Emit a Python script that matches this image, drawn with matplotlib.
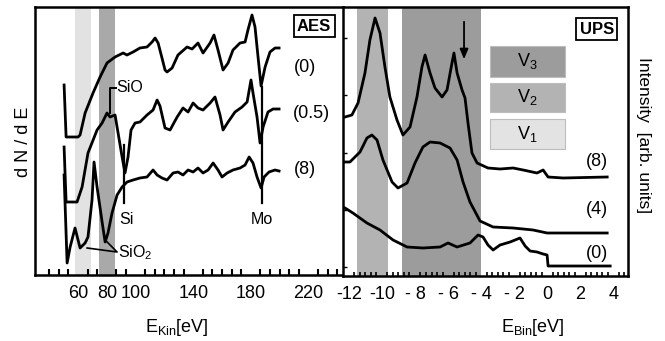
import numpy as np
import matplotlib
matplotlib.use("Agg")
import matplotlib.pyplot as plt
from matplotlib.patches import Rectangle
from matplotlib.ticker import FixedLocator

plt.rcParams["font.family"] = ["Liberation Sans", "DejaVu Sans"]
plt.rcParams["mathtext.fontset"] = "custom"
plt.rcParams["mathtext.rm"] = "Liberation Sans"
plt.rcParams["mathtext.it"] = "Liberation Sans:italic"

# ── AES data (E_kin in eV, dN/dE in arb. units) ──────────────────────────────
aes_e0 = [50.3, 51.7, 60.0, 61.4, 64.9, 70.4, 75.3, 80.1, 85.7, 91.3, 94.0, 98.2,
          103.0, 107.9, 111.4, 113.5, 115.6, 118.3, 120.4, 121.8, 125.3, 129.4,
          135.7, 139.2, 143.3, 146.8, 151.7, 154.4, 157.2, 160.7, 164.2, 167.6,
          172.5, 176.0, 178.0, 180.8, 182.9, 185.0, 187.1, 189.9, 193.3, 196.8, 199.6]
aes_i0 = [190, 138, 138, 140, 162, 182, 198, 212, 218, 222, 220, 223,
          227, 228, 233, 237, 232, 217, 205, 203, 207, 220,
          228, 226, 232, 222, 232, 240, 225, 205, 212, 225,
          232, 233, 245, 260, 248, 218, 189, 208, 223, 227, 227]

aes_e05 = [50.3, 51.7, 59.3, 62.8, 66.9, 73.2, 76.7, 80.1, 82.2, 85.7, 87.8, 90.6,
           92.6, 94.7, 96.8, 99.6, 103.0, 107.9, 112.1, 114.9, 116.9, 120.4, 123.9,
           128.8, 132.9, 136.4, 139.9, 143.3, 146.8, 151.7, 155.1, 158.6, 160.7,
           164.2, 169.0, 173.9, 177.4, 180.1, 181.5, 184.3, 186.4, 188.5, 191.9,
           195.4, 199.6]
aes_i05 = [128, 73, 73, 88, 122, 145, 152, 162, 158, 160, 142, 118,
           102, 118, 145, 152, 153, 160, 165, 175, 169, 147, 145,
           158, 167, 163, 172, 167, 165, 172, 178, 160, 145,
           153, 163, 168, 173, 195, 182, 158, 132, 148, 163,
           166, 166]

aes_e8 = [50.3, 52.4, 54.5, 57.9, 61.4, 64.9, 66.9, 69.7, 71.1, 73.2, 76.7, 78.8,
          80.8, 83.6, 87.1, 90.6, 94.0, 98.2, 103.0, 107.9, 112.1, 114.9, 118.3,
          121.8, 126.0, 129.4, 132.9, 136.4, 139.9, 143.3, 146.8, 150.3, 153.8,
          157.2, 160.0, 163.5, 167.6, 172.5, 176.0, 178.8, 181.5, 184.3, 187.1,
          189.2, 192.6, 196.8, 199.6]
aes_i8 = [100, 12, 28, 47, 27, 32, 38, 75, 113, 88, 53, 33,
          42, 62, 80, 88, 93, 95, 97, 98, 105, 100, 97,
          95, 102, 103, 100, 105, 103, 107, 102, 105, 112,
          105, 98, 102, 105, 107, 110, 118, 112, 98, 87,
          98, 103, 105, 104]

# ── UPS data (E_bin in eV, intensity in arb. units) ──────────────────────────
ups_e8 = [-12.24, -11.82, -11.45, -11.03, -10.73, -10.42, -10.12, -9.82, -9.52,
          -9.09, -8.73, -8.30, -7.88, -7.58, -7.39, -7.09, -6.79, -6.36, -6.06,
          -5.76, -5.64, -5.45, -5.15, -4.97, -4.79, -4.55, -4.24, -3.58, -2.85,
          -2.06, -1.45, -0.61, -0.24, 0.06, 0.97, 3.64]
ups_i8 = [159, 161, 173, 203, 236, 258, 243, 209, 179,
          156, 141, 149, 179, 209, 221, 203, 188, 179, 186,
          213, 223, 203, 186, 178, 153, 123, 113, 108, 107,
          108, 106, 103, 106, 99, 98, 99]

ups_e4 = [-12.24, -11.94, -11.33, -10.91, -10.61, -10.30, -9.94, -9.39, -9.03,
          -8.48, -8.00, -7.52, -7.09, -6.48, -5.88, -5.45, -5.09, -4.67, -4.06,
          -3.27, -2.06, -0.85, 0.0, 3.64]
ups_i4 = [114, 114, 124, 138, 141, 136, 116, 94, 88,
          93, 113, 129, 134, 133, 128, 116, 94, 74, 55,
          49, 48, 46, 43, 43]

ups_e0 = [-12.24, -11.76, -10.91, -10.12, -9.33, -8.48, -7.52, -6.48, -6.00,
          -5.45, -4.67, -4.18, -3.88, -3.58, -3.27, -2.85, -2.24, -1.64, -1.33,
          -1.03, -0.61, -0.24, 0.0, 0.06, 3.82]
ups_i0 = [68, 63, 53, 46, 36, 29, 28, 29, 33,
          29, 33, 41, 39, 31, 26, 31, 34, 38, 30,
          25, 24, 22, 21, 10, 10]

aes_ticks = [60, 80, 100, 140, 180, 220]
ups_ticks = [-12, -10, -8, -6, -4, -2, 0, 2, 4]
ups_ticklabels = ["-12", "-10", "- 8", "- 6", "- 4", "- 2", "0", "2", "4"]

# ── Figure ───────────────────────────────────────────────────────────────────
W, H = 665, 341
fig = plt.figure(figsize=(W / 100, H / 100), dpi=100)

def px_axes(x0, y0, x1, y1):
    return fig.add_axes([x0 / W, 1 - y1 / H, (x1 - x0) / W, (y1 - y0) / H])

ax1 = px_axes(35, 7, 343, 275)
ax2 = px_axes(343, 7, 628, 276)

LW = 2.0
FS = 13        # tick labels, curve labels, axis labels
FS_ANN = 11.5  # Si / Mo / SiO annotations

# ── AES panel ────────────────────────────────────────────────────────────────
ax1.axvspan(57.9, 68.8, color="#e2e2e2", lw=0, zorder=0)
ax1.axvspan(74.6, 85.7, color="#a9a9a9", lw=0, zorder=0)
for e, i in [(aes_e0, aes_i0), (aes_e05, aes_i05), (aes_e8, aes_i8)]:
    ax1.plot(e, i, color="black", lw=LW, solid_joinstyle="round")

# markers for Si and Mo
ax1.plot([92.0, 92.0], [72, 130], color="black", lw=1.6)
ax1.plot([187.8, 187.8], [72, 188], color="black", lw=1.6)
ax1.text(93.3, 55, "Si", ha="center", va="center", fontsize=FS_ANN)
ax1.text(187.8, 55, "Mo", ha="center", va="center", fontsize=FS_ANN)
ax1.plot([82.2, 82.2, 86.2], [162, 187, 187], color="black", lw=1.4)
ax1.text(86.6, 187, "SiO", ha="left", va="center", fontsize=FS_ANN)
ax1.plot([66.3, 87.1, 78.8], [27, 23, 35], color="black", lw=1.2)
ax1.text(87.8, 22, "SiO$_2$", ha="left", va="center", fontsize=FS_ANN)

ax1.text(217.6, 207, "(0)", ha="center", va="center", fontsize=FS)
ax1.text(222.0, 162, "(0.5)", ha="center", va="center", fontsize=FS)
ax1.text(217.6, 105, "(8)", ha="center", va="center", fontsize=FS)
ax1.text(0.906, 0.929, "AES", transform=ax1.transAxes, ha="center", va="center",
         fontsize=12, fontweight="bold",
         bbox=dict(boxstyle="square,pad=0.2", fc="white", ec="black", lw=1.3))

ax1.set_xlim(30.1, 244)
ax1.set_ylim(0, 268)
ax1.set_xticks(aes_ticks)
ax1.set_xticklabels([str(t) for t in aes_ticks])
ax1.xaxis.set_minor_locator(FixedLocator(np.arange(40, 241, 20 / 3)))
ax1.tick_params(axis="x", which="major", length=0, pad=7, labelsize=FS)
ax1.tick_params(axis="x", which="minor", direction="in", length=4, width=1.5)
ax1.set_yticks([])
ax1.spines["right"].set_visible(False)
for s in ["left", "top", "bottom"]:
    ax1.spines[s].set_linewidth(1.8)

# ── UPS panel ────────────────────────────────────────────────────────────────
ax2.axvspan(-11.52, -9.64, color="#b3b3b3", lw=0, zorder=0)
ax2.axvspan(-8.79, -4.0, color="#9c9c9c", lw=0, zorder=0)
for e, i in [(ups_e8, ups_i8), (ups_e4, ups_i4), (ups_e0, ups_i0)]:
    ax2.plot(e, i, color="black", lw=LW, solid_joinstyle="round")

ax2.annotate("", xy=(-5.03, 214), xytext=(-5.03, 257),
             arrowprops=dict(arrowstyle="-|>,head_width=0.25,head_length=0.6",
                             color="black", lw=1.3))

boxes = [("V$_3$", 0.740, 0.115, "#9c9c9c"),
         ("V$_2$", 0.610, 0.108, "#b3b3b3"),
         ("V$_1$", 0.472, 0.112, "#e3e3e3")]
for label, y0, h, c in boxes:
    ax2.add_patch(Rectangle((0.516, y0), 0.263, h, transform=ax2.transAxes,
                            fc=c, ec="#bdbdbd", lw=0.8, zorder=3))
    ax2.text(0.516 + 0.263 / 2, y0 + h / 2, label, transform=ax2.transAxes,
             ha="center", va="center", fontsize=FS, zorder=4)

ax2.text(3.03, 115, "(8)", ha="center", va="center", fontsize=FS)
ax2.text(3.03, 66, "(4)", ha="center", va="center", fontsize=FS)
ax2.text(3.03, 23, "(0)", ha="center", va="center", fontsize=FS)
ax2.text(0.891, 0.918, "UPS", transform=ax2.transAxes, ha="center", va="center",
         fontsize=12, fontweight="bold",
         bbox=dict(boxstyle="square,pad=0.2", fc="white", ec="black", lw=1.3))

ax2.set_xlim(-12.36, 4.9)
ax2.set_ylim(0, 269)
ax2.set_xticks(ups_ticks)
ax2.set_xticklabels(ups_ticklabels)
ax2.xaxis.set_minor_locator(FixedLocator(np.arange(-12, 4.9, 1 / 3)))
ax2.tick_params(axis="x", which="major", length=0, pad=7, labelsize=FS)
ax2.tick_params(axis="x", which="minor", direction="in", length=3, width=1.2)
ax2.set_yticks([9, 66, 123, 181, 238])
ax2.set_yticklabels([])
ax2.tick_params(axis="y", direction="in", length=3, width=1.0)
for s in ax2.spines.values():
    s.set_linewidth(1.8)

# ── Axis labels ──────────────────────────────────────────────────────────────
fig.text(24 / W, 1 - 142 / H, "d N / d E", rotation=90, ha="center", va="center",
         fontsize=FS)
fig.text(644 / W, 1 - 135 / H, "Intensity  [arb. units]", rotation=270,
         ha="center", va="center", fontsize=12.5)
fig.text(177 / W, 1 - 327 / H, r"E$_{\mathrm{Kin}}$[eV]", ha="center", va="center",
         fontsize=FS)
fig.text(533 / W, 1 - 327 / H, r"E$_{\mathrm{Bin}}$[eV]", ha="center", va="center",
         fontsize=FS)

fig.savefig("out.png", dpi=100)
